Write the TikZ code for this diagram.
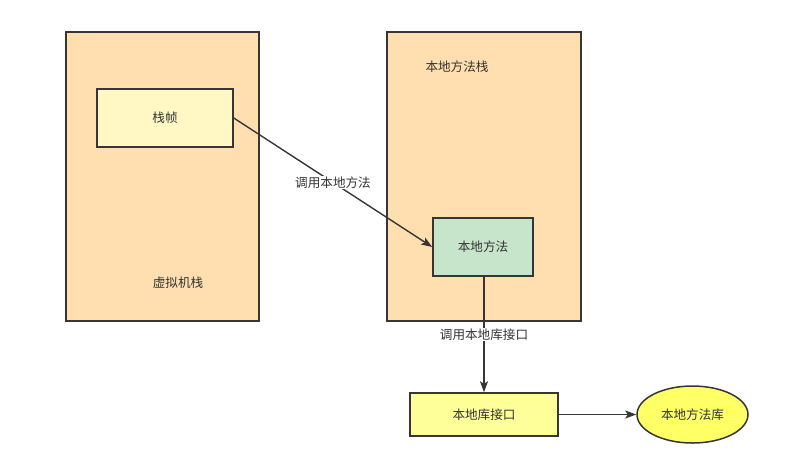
\documentclass[tikz,border=0pt]{standalone}
\usepackage{fontspec}
\setmainfont{Noto Sans CJK SC}
\usetikzlibrary{shapes.geometric,arrows.meta}
\definecolor{stackfill}{HTML}{FFDFB0}
\definecolor{framefill}{HTML}{FFF8C4}
\definecolor{methodfill}{HTML}{C7E5CA}
\definecolor{ifacefill}{HTML}{FFFF99}
\definecolor{libfill}{HTML}{FFFF66}
\definecolor{edge}{HTML}{363636}
\definecolor{txt}{HTML}{333333}
\begin{document}
\begin{tikzpicture}[x=1pt,y=-1pt,
  font=\fontsize{12.6}{14}\selectfont,
  box/.style={draw=edge,line width=1.5pt,text=txt},
  conn/.style={draw=edge,line width=1.4pt,-{Stealth[length=11pt,width=8pt,inset=2.5pt]}},
  lbl/.style={fill=white,text=txt,inner sep=1pt}]
\useasboundingbox (0,0) rectangle (791,475);
\node[box,fill=stackfill,minimum width=193pt,minimum height=289pt] (jvm) at (162.5,176.5) {};
\node[box,fill=stackfill,minimum width=194pt,minimum height=289pt] (nms) at (484,176.5) {};
\node[text=txt] (jvmlbl) at (178,283) {虚拟机栈};
\node[text=txt] (nmslbl) at (457,67) {本地方法栈};
\node[box,fill=framefill,minimum width=136pt,minimum height=58pt] (frame) at (165,118) {栈帧};
\node[box,fill=methodfill,minimum width=100pt,minimum height=58pt] (method) at (483,247) {本地方法};
\node[box,fill=ifacefill,minimum width=148pt,minimum height=43pt] (iface) at (484,414.5) {本地库接口};
\node[box,ellipse,fill=libfill,minimum width=111pt,minimum height=57pt,inner sep=0pt] (lib) at (692.5,414.5) {本地方法库};
\draw[conn] (frame.east) -- (method.west) node[lbl,pos=0.5] {调用本地方法};
\draw[conn] (method.south -| iface.north) -- (iface.north) node[lbl,pos=0.5] {调用本地库接口};
\draw[conn] (iface.east) -- (lib.west);
\end{tikzpicture}
\end{document}
